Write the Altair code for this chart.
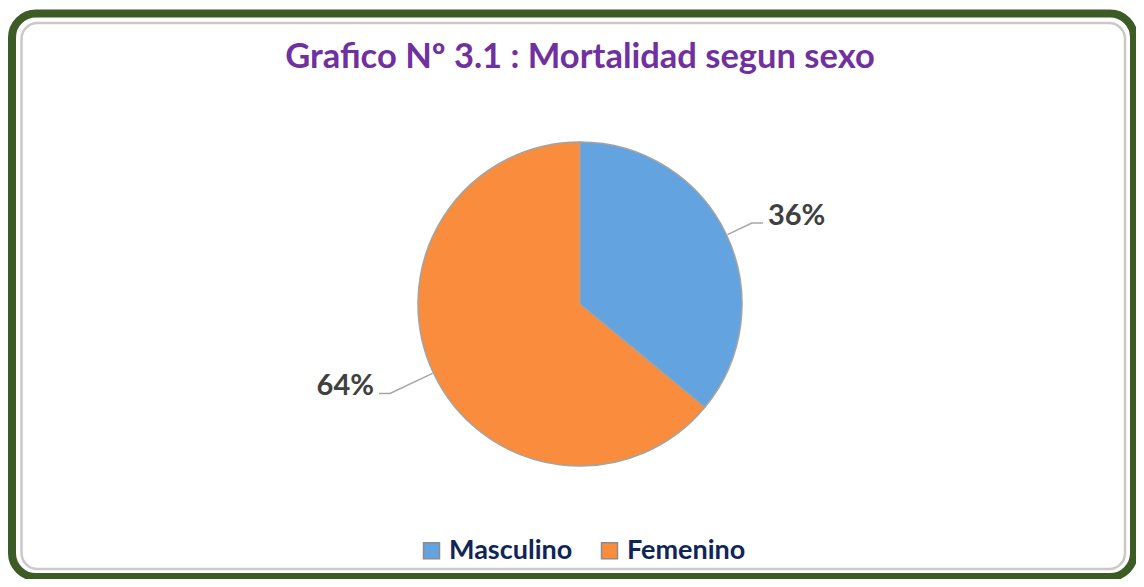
import math
import altair as alt
import pandas as pd

# ---- data ----
categories = ["Masculino", "Femenino"]
values = [36, 64]
labels = ["36%", "64%"]
colors = ["#62a3e0", "#f98d3d"]
title_text = "Grafico Nº 3.1 : Mortalidad segun sexo"

# ---- layout ----
W, H = 1128, 571
CX, CY, R = 572, 296, 162
ELBOW = {"Masculino": 28, "Femenino": 48}
ARM = 11

pie_df = pd.DataFrame({"cat": categories, "value": values,
                       "idx": list(range(len(categories))), "label": labels})

total = float(sum(values))
line_rows, label_rows = [], []
start = 0.0
for c, v, lab in zip(categories, values, labels):
    mid = (start + v / 2.0) / total * 2 * math.pi
    start += v
    s, co = math.sin(mid), math.cos(mid)
    side = 1 if s >= 0 else -1
    r1 = R + 1
    r2 = R + ELBOW[c]
    p0 = (CX + r1 * s, CY - r1 * co)
    p1 = (CX + r2 * s, CY - r2 * co)
    p2 = (p1[0] + side * ARM, p1[1])
    for i, p in enumerate([p0, p1, p2]):
        line_rows.append({"cat": c, "o": i, "x": p[0], "y": p[1]})
    label_rows.append({"cat": c, "label": lab, "x": p2[0] + side * 5,
                       "y": p2[1] - 7, "side": "right" if side > 0 else "left"})

line_df = pd.DataFrame(line_rows)
label_df = pd.DataFrame(label_rows)

xs = alt.Scale(domain=[0, W], nice=False, zero=False)
ys = alt.Scale(domain=[H, 0], nice=False, zero=False)

frame = alt.Chart(pd.DataFrame({"a": [0]})).mark_rect(
    fill="white", stroke="#3d5b24", strokeWidth=8, cornerRadius=24
).encode(x=alt.value(4), x2=alt.value(W - 2), y=alt.value(5.5), y2=alt.value(H - 2))

inner = alt.Chart(pd.DataFrame({"a": [0]})).mark_rect(
    fill="white", stroke="#c9c9c9", strokeWidth=2.5, cornerRadius=16
).encode(x=alt.value(13.5), x2=alt.value(W - 11), y=alt.value(15), y2=alt.value(H - 10))

title = alt.Chart(pd.DataFrame({"t": [title_text]})).mark_text(
    font="Lato", fontSize=34.5, fontWeight="bold", color="#7030a0"
).encode(text="t:N", x=alt.value(CX), y=alt.value(50))

pie = alt.Chart(pie_df).mark_arc(
    outerRadius=R, stroke="#a3a3a3", strokeWidth=1.5
).encode(
    theta=alt.Theta("value:Q", stack=True),
    order=alt.Order("idx:Q"),
    color=alt.Color(
        "cat:N",
        scale=alt.Scale(domain=categories, range=colors),
        sort=categories,
        legend=alt.Legend(
            title=None, orient="none", legendX=410, legendY=529,
            direction="horizontal", symbolType="square", symbolSize=256,
            symbolStrokeColor="#8c8c8c", symbolStrokeWidth=1.5, symbolOpacity=1,
            labelFont="Lato", labelFontSize=27, labelFontWeight="bold",
            labelColor="#0f2557", labelOffset=4, columnPadding=23,
            padding=0, symbolOffset=0,
        ),
    ),
    x=alt.value(CX), y=alt.value(CY),
)

lines = alt.Chart(line_df).mark_line(color="#a6a6a6", strokeWidth=1.5).encode(
    x=alt.X("x:Q", scale=xs, axis=None),
    y=alt.Y("y:Q", scale=ys, axis=None),
    detail="cat:N", order="o:Q",
)

def label_layer(side, align):
    return alt.Chart(label_df).transform_filter(
        alt.datum.side == side
    ).mark_text(
        font="Lato", fontSize=29, fontWeight="bold", color="#404040",
        align=align, baseline="middle",
    ).encode(
        x=alt.X("x:Q", scale=xs, axis=None),
        y=alt.Y("y:Q", scale=ys, axis=None),
        text="label:N",
    )

chart = alt.layer(
    frame, inner, title, pie, lines,
    label_layer("right", "left"), label_layer("left", "right"),
).properties(
    width=W, height=H, autosize=alt.AutoSizeParams(type="none"), padding=0,
    background="white",
).configure_view(stroke=None)

chart.save("out.html", embed_options={"renderer": "svg", "actions": False})
